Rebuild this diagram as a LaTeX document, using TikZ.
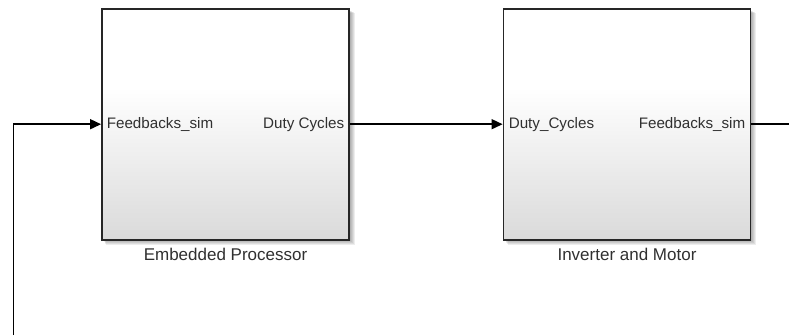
\documentclass[tikz,border=0pt]{standalone}
\usepackage{fontspec}
\setmainfont{Liberation Sans}
\usetikzlibrary{arrows.meta}
\definecolor{blkgray}{HTML}{DADADA}
\definecolor{edgegray}{HTML}{262626}
\definecolor{txtgray}{HTML}{303030}
\pgfdeclareverticalshading{blkshade}{100bp}{color(0bp)=(blkgray); color(25bp)=(blkgray); color(58bp)=(white); color(100bp)=(white)}
\tikzset{
  blk/.style={draw=edgegray, line width=1.8pt, shading=blkshade, minimum width=247pt, minimum height=231pt, inner sep=0pt},
  portlbl/.style={font=\fontsize{15.2}{15}\selectfont, text=txtgray, inner sep=0pt},
  namelbl/.style={font=\fontsize{17}{17}\selectfont, text=txtgray, inner sep=0pt},
  wire/.style={line width=1.5pt, black},
  arr/.style={wire, -{Triangle[length=11pt,width=10pt]}},
  shadowbox/.style={fill=black, fill opacity=0.07, draw=none}
}
\begin{document}
\begin{tikzpicture}[x=1pt,y=-1pt]
\useasboundingbox (0,0) rectangle (789,335);
% shadows
\foreach \k in {1,2,3,4,5}{
  \fill[shadowbox] (103+\k*0.6,10+\k*0.6) rectangle (349.5+\k,240+\k);
  \fill[shadowbox] (504.5+\k*0.6,10+\k*0.6) rectangle (751+\k,240+\k);
}
\node[blk] (b1) at (225.5,124.2) {};
\node[blk] (b2) at (627,124.2) {};
% port labels
\node[portlbl, anchor=west] (b1in) at ([xshift=5.5pt]b1.west) {Feedbacks\_sim};
\node[portlbl, anchor=east] (b1out) at ([xshift=-5.5pt]b1.east) {Duty Cycles};
\node[portlbl, anchor=west] (b2in) at ([xshift=6pt]b2.west) {Duty\_Cycles};
\node[portlbl, anchor=east] (b2out) at ([xshift=-6pt]b2.east) {Feedbacks\_sim};
% names
\node[namelbl] (n1) at (225.5,254.5) {Embedded Processor};
\node[namelbl] (n2) at (627,254.5) {Inverter and Motor};
% connectors
\coordinate (outR) at (789,124.2);
\coordinate (fbBot) at (13.5,335);
\coordinate (fbTop) at (13.5,124.2);
\draw[arr] (b1.east) -- (b2.west);
\draw[wire] (b2.east) -- (outR);
\draw[arr] (fbBot) -- (fbTop) -- (b1.west);
\end{tikzpicture}
\end{document}
